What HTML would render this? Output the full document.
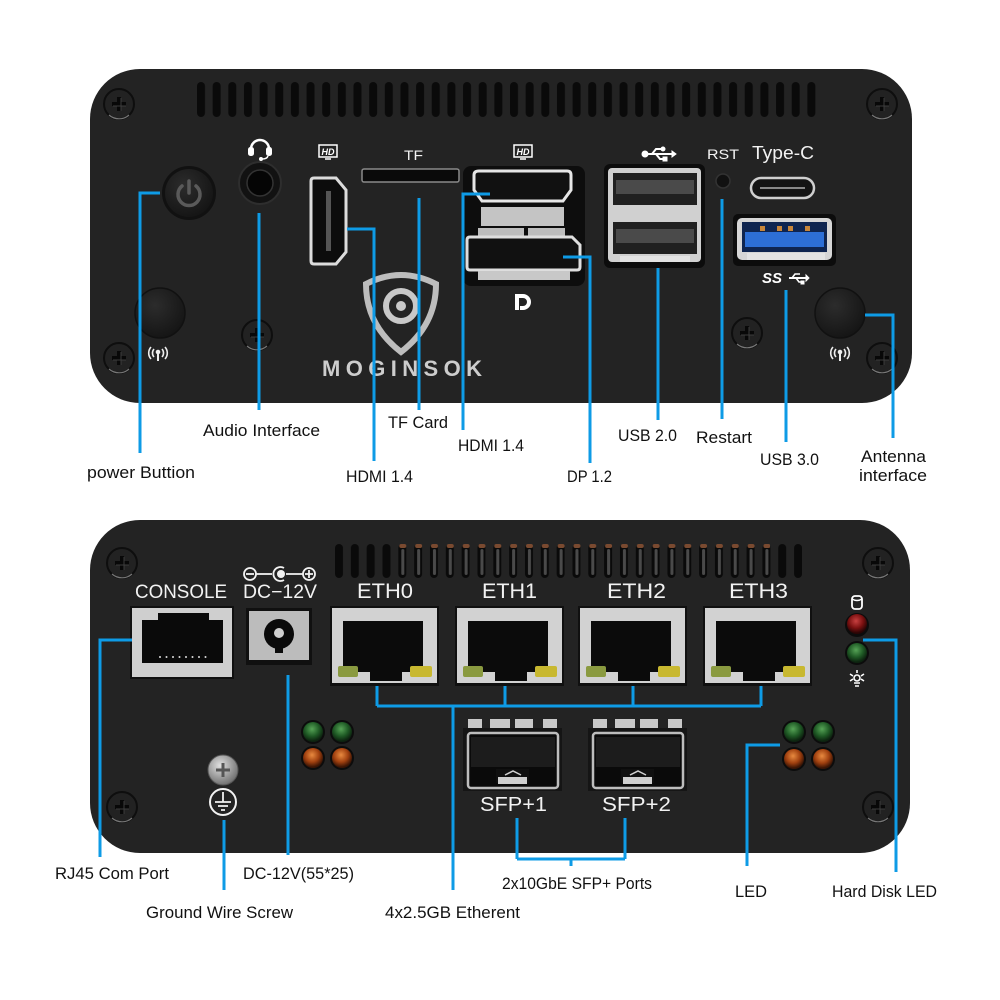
<!DOCTYPE html>
<html><head><meta charset="utf-8"><style>
html,body{margin:0;padding:0;background:#fff;}
svg{display:block}
.lb{font-family:"Liberation Sans",sans-serif;font-size:17px;fill:#111}
.pt{font-family:"Liberation Sans",sans-serif;fill:#f2f2f2}
.bl{stroke:#0e9be6;stroke-width:3;fill:none}
</style></head><body>
<svg width="1000" height="1000" viewBox="0 0 1000 1000" xmlns="http://www.w3.org/2000/svg">
<defs>
 <pattern id="v1" x="197" y="0" width="15.65" height="1000" patternUnits="userSpaceOnUse"><rect x="0" y="82" width="8" height="35" rx="4" fill="#0a0a0a"/></pattern>
 <pattern id="v2" x="335" y="0" width="15.83" height="1000" patternUnits="userSpaceOnUse"><rect x="0" y="544" width="8" height="34" rx="4" fill="#0a0a0a"/></pattern>
 <pattern id="v3" x="335" y="0" width="15.83" height="1000" patternUnits="userSpaceOnUse"><rect x="3" y="549" width="3" height="26" rx="1.5" fill="#4a4a4a"/><rect x="1" y="544" width="7" height="4" rx="2" fill="#7a4a30"/></pattern>
 <radialGradient id="gG" cx="0.45" cy="0.35" r="0.6"><stop offset="0" stop-color="#56a356"/><stop offset="0.6" stop-color="#1f5a25"/><stop offset="1" stop-color="#0d2410"/></radialGradient>
 <radialGradient id="gO" cx="0.45" cy="0.35" r="0.6"><stop offset="0" stop-color="#e88a40"/><stop offset="0.6" stop-color="#a0400f"/><stop offset="1" stop-color="#3a1505"/></radialGradient>
 <radialGradient id="gR" cx="0.45" cy="0.35" r="0.6"><stop offset="0" stop-color="#c84040"/><stop offset="0.6" stop-color="#7a1010"/><stop offset="1" stop-color="#2a0505"/></radialGradient>
 <radialGradient id="gA" cx="0.4" cy="0.35" r="0.7"><stop offset="0" stop-color="#2c2c2c"/><stop offset="1" stop-color="#141414"/></radialGradient>
 <radialGradient id="gS" cx="0.4" cy="0.35" r="0.7"><stop offset="0" stop-color="#e0e0e0"/><stop offset="1" stop-color="#6a6a6a"/></radialGradient>
 <g id="screw"><circle r="15" fill="#222" stroke="#0e0e0e" stroke-width="2"/><path d="M-10,11 A15,15 0 0 0 10,11" stroke="#777" stroke-width="1.2" fill="none"/><path d="M-7,0H7M0,-7V7" stroke="#080808" stroke-width="4"/><path d="M-6,2H7M2,-6V7" stroke="#3c3c3c" stroke-width="1"/></g>
 <g id="ant" stroke="#eee" fill="none" stroke-width="1.6"><path d="M-4,-5 A6,6 0 0 0 -4,3"/><path d="M4,-5 A6,6 0 0 1 4,3"/><path d="M-7,-7 A9,9 0 0 0 -7,5"/><path d="M7,-7 A9,9 0 0 1 7,5"/><circle cx="0" cy="-2" r="1.5" fill="#eee"/><path d="M0,-1 V7" stroke-width="2"/></g>
 <g id="hd"><rect x="-9" y="-7" width="18" height="12" fill="none" stroke="#fff" stroke-width="1.5"/><text x="0" y="3" font-size="9" font-weight="bold" font-style="italic" text-anchor="middle" fill="#fff" font-family="Liberation Sans,sans-serif">HD</text><path d="M-3,7 H3" stroke="#fff" stroke-width="1.5"/></g>
 <g id="eth"><rect x="-2" y="-2" width="109" height="80" fill="#101010"/><rect x="0" y="0" width="105" height="75" fill="#d2d2d2"/><path d="M11,13 H91 V64 H70 V73 H38 V64 H11 Z" fill="#0b0b0b"/><rect x="6" y="58" width="20" height="11" rx="2" fill="#8a9a40"/><rect x="78" y="58" width="22" height="11" rx="2" fill="#c8b830"/></g>
 <g id="sfp"><rect x="5" y="0" width="14" height="9" fill="#c8c8c8"/><rect x="27" y="0" width="20" height="9" fill="#c8c8c8"/><rect x="52" y="0" width="18" height="9" fill="#c8c8c8"/><rect x="80" y="0" width="14" height="9" fill="#c8c8c8"/><rect x="0" y="9" width="99" height="63" fill="#151515"/><rect x="5" y="14" width="90" height="55" rx="3" fill="#0a0a0a" stroke="#bdbdbd" stroke-width="2.5"/><rect x="8" y="18" width="84" height="30" fill="#1c1c1c"/><rect x="33" y="50" width="33" height="14" fill="#101010"/><rect x="35" y="58" width="29" height="7" fill="#cfcfcf"/><path d="M42,56 L50,52 L58,56" stroke="#cfcfcf" stroke-width="1.5" fill="none"/></g>
 <g id="ledG"><circle r="12" fill="#0c0c0c"/><circle r="10" fill="url(#gG)"/></g>
 <g id="ledO"><circle r="12" fill="#0c0c0c"/><circle r="10" fill="url(#gO)"/></g>
</defs>

<!-- TOP PANEL -->
<rect x="90" y="69" width="822" height="334" rx="50" fill="#232323"/>
<rect x="197" y="82" width="619" height="35" fill="url(#v1)"/>
<use href="#screw" x="119" y="104"/>
<use href="#screw" x="119" y="358"/>
<use href="#screw" x="882" y="104"/>
<use href="#screw" x="882" y="358"/>
<use href="#screw" x="257" y="335"/>
<use href="#screw" x="747" y="333"/>

<!-- power -->
<circle cx="189" cy="193" r="27" fill="#111"/>
<circle cx="189" cy="193" r="24" fill="url(#gA)"/>
<g transform="translate(189,194)" stroke="#5a5a5a" stroke-width="3.5" fill="none" stroke-linecap="round"><path d="M-7,-8 A11,11 0 1 0 7,-8"/><path d="M0,-13 V-1"/></g>
<!-- antenna left -->
<circle cx="160" cy="313" r="25" fill="url(#gA)" stroke="#111" stroke-width="1.5"/>
<use href="#ant" x="158" y="354"/>
<!-- audio -->
<g transform="translate(260,147)"><path d="M-9,2 A9,9 0 0 1 9,2" stroke="#fff" stroke-width="2.5" fill="none"/><rect x="-12" y="0" width="6" height="9" rx="2.5" fill="#fff"/><rect x="6" y="0" width="6" height="9" rx="2.5" fill="#fff"/><path d="M8,9 Q7,12 2,12" stroke="#fff" stroke-width="1.5" fill="none"/><circle cx="1" cy="12" r="2" fill="#fff"/></g>
<circle cx="260" cy="183" r="21" fill="#121212" stroke="#2e2e2e" stroke-width="2"/>
<circle cx="260" cy="183" r="13" fill="#050505" stroke="#333" stroke-width="1.5"/>
<!-- HDMI vertical -->
<use href="#hd" x="328" y="152"/>
<path d="M314,178 H336 L346,190 V252 L336,264 H314 Q311,264 311,261 V181 Q311,178 314,178 Z" fill="#0c0c0c" stroke="#dcdcdc" stroke-width="3"/>
<rect x="326" y="191" width="5" height="60" fill="#555"/>
<!-- TF -->
<text class="pt" x="404" y="160" font-size="14" textLength="19" lengthAdjust="spacingAndGlyphs">TF</text>
<rect x="362" y="169" width="97" height="13" rx="2" fill="#0a0a0a" stroke="#8a8a8a" stroke-width="1.5"/>
<!-- logo -->
<path d="M366,284 Q401,266 436,284 Q436,325 401,352 Q366,325 366,284 Z" fill="none" stroke="#bdbdbd" stroke-width="6"/>
<circle cx="401" cy="306" r="15" fill="none" stroke="#c8c8c8" stroke-width="6"/>
<circle cx="401" cy="306" r="5" fill="#c8c8c8"/>
<text x="322" y="376" font-family="Liberation Sans,sans-serif" font-weight="bold" font-size="22" fill="#cdcdcd" textLength="160" lengthAdjust="spacing">MOGINSOK</text>
<!-- HDMI + DP stacked -->
<use href="#hd" x="523" y="152"/>
<rect x="463" y="166" width="122" height="120" rx="8" fill="#0d0d0d"/>
<path d="M479,171 H567 Q571,171 571,175 V190 L563,201 H482 L474,190 V175 Q474,171 479,171 Z" fill="#111" stroke="#e6e6e6" stroke-width="3"/>
<rect x="481" y="207" width="83" height="19" fill="#c4c4c4"/>
<rect x="478" y="228" width="46" height="8" fill="#bdbdbd"/>
<rect x="528" y="228" width="37" height="8" fill="#bdbdbd"/>
<path d="M470,237 H572 L580,245 V267 Q580,270 577,270 H470 Q467,270 467,267 V240 Q467,237 470,237 Z" fill="#111" stroke="#dedede" stroke-width="3"/>
<rect x="478" y="271" width="92" height="9" fill="#c8c8c8"/>
<path d="M515,294 h8 a8,8 0 0 1 0,16 h-3 v-4 h3 a4,4 0 0 0 0,-8 h-4 v12 h-4 z" fill="#fff"/>
<!-- USB 2.0 -->
<g transform="translate(658,154)" stroke="#fff" fill="#fff"><circle cx="-13" cy="0" r="3"/><path d="M-13,0 H14" stroke-width="2"/><path d="M14,-3 L18,0 L14,3 Z"/><path d="M-6,0 L-2,-5 H4" fill="none" stroke-width="2"/><circle cx="5" cy="-5" r="2"/><path d="M-2,0 L2,5 H6" fill="none" stroke-width="2"/><rect x="5" y="3" width="4" height="4"/></g>
<rect x="604" y="164" width="101" height="104" rx="6" fill="#0c0c0c"/>
<rect x="608" y="168" width="93" height="94" rx="4" fill="#d0d0d0"/>
<rect x="613" y="173" width="84" height="32" fill="#202020"/>
<rect x="616" y="180" width="78" height="14" fill="#4a4a4a"/>
<rect x="613" y="222" width="84" height="32" fill="#202020"/>
<rect x="616" y="229" width="78" height="14" fill="#4a4a4a"/>
<rect x="620" y="256" width="70" height="6" fill="#e2e2e2"/>
<!-- RST / Type-C -->
<text class="pt" x="707" y="159" font-size="14" textLength="32" lengthAdjust="spacingAndGlyphs">RST</text>
<circle cx="723" cy="181" r="7" fill="#111" stroke="#333" stroke-width="1.5"/>
<text class="pt" x="752" y="159" font-size="18" textLength="62" lengthAdjust="spacingAndGlyphs">Type-C</text>
<rect x="751" y="178" width="63" height="20" rx="10" fill="#141414" stroke="#cfcfcf" stroke-width="2.5"/>
<path d="M760,188 H805" stroke="#888" stroke-width="2"/>
<!-- USB 3.0 -->
<rect x="733" y="214" width="103" height="52" rx="5" fill="#0c0c0c"/>
<rect x="737" y="218" width="95" height="42" rx="5" fill="#d6d6d6"/>
<rect x="742" y="222" width="85" height="30" fill="#0f2550"/>
<rect x="745" y="232" width="79" height="15" fill="#2d6fd6"/>
<rect x="760" y="226" width="5" height="5" fill="#c8863a"/><rect x="777" y="226" width="5" height="5" fill="#c8863a"/><rect x="788" y="226" width="5" height="5" fill="#c8863a"/><rect x="805" y="226" width="5" height="5" fill="#c8863a"/>
<rect x="747" y="253" width="78" height="7" fill="#e4e4e4"/>
<text x="762" y="283" font-family="Liberation Sans,sans-serif" font-size="15" font-weight="bold" font-style="italic" fill="#fff">SS</text>
<g transform="translate(797,278)" stroke="#fff" fill="#fff"><path d="M-8,0 H9" stroke-width="2"/><path d="M9,-3 L12,0 L9,3 Z"/><path d="M-5,0 L-2,-4 H3" fill="none" stroke-width="1.6"/><path d="M-1,0 L2,4 H5" fill="none" stroke-width="1.6"/><rect x="4" y="3" width="3" height="3"/></g>
<!-- antenna right -->
<circle cx="840" cy="313" r="25" fill="url(#gA)" stroke="#111" stroke-width="1.5"/>
<use href="#ant" x="840" y="354"/>

<!-- top lines -->
<path class="bl" d="M160,193 H140 V453"/>
<path class="bl" d="M259,213 V410"/>
<path class="bl" d="M347,229 H374 V461"/>
<path class="bl" d="M419,198 V410"/>
<path class="bl" d="M490,194 H463 V430"/>
<path class="bl" d="M563,257 H590 V463"/>
<path class="bl" d="M658,268 V420"/>
<path class="bl" d="M722,199 V419"/>
<path class="bl" d="M786,290 V442"/>
<path class="bl" d="M865,315 H893 V438"/>

<!-- top labels -->
<text class="lb" x="87" y="478" textLength="108" lengthAdjust="spacingAndGlyphs">power Buttion</text>
<text class="lb" x="203" y="436" textLength="117" lengthAdjust="spacingAndGlyphs">Audio Interface</text>
<text class="lb" x="388" y="428" textLength="60" lengthAdjust="spacingAndGlyphs">TF Card</text>
<text class="lb" x="346" y="482" textLength="67" lengthAdjust="spacingAndGlyphs">HDMI 1.4</text>
<text class="lb" x="458" y="451" textLength="66" lengthAdjust="spacingAndGlyphs">HDMI 1.4</text>
<text class="lb" x="567" y="482" textLength="45" lengthAdjust="spacingAndGlyphs">DP 1.2</text>
<text class="lb" x="618" y="441" textLength="59" lengthAdjust="spacingAndGlyphs">USB 2.0</text>
<text class="lb" x="696" y="443" textLength="56" lengthAdjust="spacingAndGlyphs">Restart</text>
<text class="lb" x="760" y="465" textLength="59" lengthAdjust="spacingAndGlyphs">USB 3.0</text>
<text class="lb" x="861" y="462" textLength="65" lengthAdjust="spacingAndGlyphs">Antenna</text>
<text class="lb" x="859" y="481" textLength="68" lengthAdjust="spacingAndGlyphs">interface</text>

<!-- BOTTOM PANEL -->
<rect x="90" y="520" width="820" height="333" rx="50" fill="#232323"/>
<rect x="335" y="544" width="467" height="34" fill="url(#v2)"/>
<rect x="398" y="544" width="372" height="34" fill="url(#v3)"/>
<use href="#screw" x="122" y="563"/>
<use href="#screw" x="122" y="807"/>
<use href="#screw" x="878" y="563"/>
<use href="#screw" x="878" y="807"/>

<text class="pt" x="135" y="598" font-size="19" textLength="92" lengthAdjust="spacingAndGlyphs">CONSOLE</text>
<rect x="130" y="606" width="104" height="73" fill="#101010"/>
<rect x="132" y="608" width="100" height="69" fill="#cfcfcf"/>
<path d="M158,613 H209 V620 H223 V663 H142 V620 H158 Z" fill="#0a0a0a"/>
<g fill="#ddd"><circle cx="160" cy="657" r="1"/><circle cx="166.5" cy="657" r="1"/><circle cx="173" cy="657" r="1"/><circle cx="179.5" cy="657" r="1"/><circle cx="186" cy="657" r="1"/><circle cx="192.5" cy="657" r="1"/><circle cx="199" cy="657" r="1"/><circle cx="205.5" cy="657" r="1"/></g>

<!-- DC symbol -->
<g stroke="#f2f2f2" stroke-width="1.8" fill="none"><circle cx="250" cy="574" r="6"/><path d="M246,574 H254"/><path d="M256,574 H272"/><path d="M286,574 H303"/><circle cx="309" cy="574" r="6"/><path d="M305,574 H313 M309,570 V578"/><path d="M284,568 A7,7 0 1 0 284,580"/></g>
<circle cx="281" cy="574" r="4" fill="#f2f2f2"/>
<text class="pt" x="243" y="598" font-size="19" textLength="74" lengthAdjust="spacingAndGlyphs">DC−12V</text>
<rect x="246" y="608" width="66" height="57" fill="#101010"/>
<rect x="249" y="611" width="60" height="49" fill="#bcbcbc"/>
<circle cx="279" cy="634" r="15" fill="#0a0a0a"/>
<rect x="275" y="645" width="8" height="8" fill="#0a0a0a"/>
<circle cx="279" cy="633" r="5" fill="#cfcfcf"/>

<!-- ETH -->
<text class="pt" x="357" y="598" font-size="21" textLength="56" lengthAdjust="spacingAndGlyphs">ETH0</text>
<text class="pt" x="482" y="598" font-size="21" textLength="55" lengthAdjust="spacingAndGlyphs">ETH1</text>
<text class="pt" x="607" y="598" font-size="21" textLength="59" lengthAdjust="spacingAndGlyphs">ETH2</text>
<text class="pt" x="729" y="598" font-size="21" textLength="59" lengthAdjust="spacingAndGlyphs">ETH3</text>
<use href="#eth" x="332" y="608"/>
<use href="#eth" x="457" y="608"/>
<use href="#eth" x="580" y="608"/>
<use href="#eth" x="705" y="608"/>

<!-- SFP -->
<use href="#sfp" x="463" y="719"/>
<use href="#sfp" x="588" y="719"/>
<text class="pt" x="480" y="811" font-size="20" textLength="67" lengthAdjust="spacingAndGlyphs">SFP+1</text>
<text class="pt" x="602" y="811" font-size="20" textLength="69" lengthAdjust="spacingAndGlyphs">SFP+2</text>

<!-- LEDs -->
<use href="#ledG" x="313" y="732"/><use href="#ledG" x="342" y="732"/>
<use href="#ledO" x="313" y="758"/><use href="#ledO" x="342" y="758"/>
<use href="#ledG" x="794" y="732"/><use href="#ledG" x="823" y="732"/>
<use href="#ledO" x="794" y="759"/><use href="#ledO" x="823" y="759"/>

<!-- HDD -->
<rect x="852" y="596" width="10" height="13" rx="3" fill="none" stroke="#fff" stroke-width="1.8"/>
<path d="M852,599 Q857,602 862,599" stroke="#fff" stroke-width="1.4" fill="none"/>
<circle cx="857" cy="625" r="12" fill="#0c0c0c"/><circle cx="857" cy="624" r="10" fill="url(#gR)"/>
<use href="#ledG" x="857" y="653"/>
<g transform="translate(857,678)" stroke="#fff" stroke-width="1.6" fill="none"><circle r="3"/><path d="M0,-8V-5 M-7,-4 L-4,-2 M7,-4 L4,-2 M-7,3 L-4,1 M7,3 L4,1 M-3,5 H3 M-2,8 H2"/></g>

<!-- Ground -->
<circle cx="223" cy="770" r="15" fill="url(#gS)" stroke="#555" stroke-width="1"/>
<path d="M216,770 H230 M223,763 V777" stroke="#555" stroke-width="3"/>
<circle cx="223" cy="802" r="13" fill="none" stroke="#f2f2f2" stroke-width="2"/>
<path d="M223,792 V802 M215,802 H231 M218,806 H228 M221,810 H225" stroke="#f2f2f2" stroke-width="1.8" fill="none"/>

<!-- bottom lines -->
<path class="bl" d="M132,640 H100 V857"/>
<path class="bl" d="M224,820 V890"/>
<path class="bl" d="M288,675 V855"/>
<path class="bl" d="M377,686 V706 M505,686 V706 M633,686 V706 M761,686 V706 M377,706 H761 M453,706 V890"/>
<path class="bl" d="M517,818 V859 M625,818 V859 M517,859 H625 M571,859 V866"/>
<path class="bl" d="M780,745 H747 V866"/>
<path class="bl" d="M863,640 H896 V872"/>

<!-- bottom labels -->
<text class="lb" x="55" y="879" textLength="114" lengthAdjust="spacingAndGlyphs">RJ45 Com Port</text>
<text class="lb" x="243" y="879" textLength="111" lengthAdjust="spacingAndGlyphs">DC-12V(55*25)</text>
<text class="lb" x="146" y="918" textLength="147" lengthAdjust="spacingAndGlyphs">Ground Wire Screw</text>
<text class="lb" x="385" y="918" textLength="135" lengthAdjust="spacingAndGlyphs">4x2.5GB Etherent</text>
<text class="lb" x="502" y="889" textLength="150" lengthAdjust="spacingAndGlyphs">2x10GbE SFP+ Ports</text>
<text class="lb" x="735" y="897" font-size="19" textLength="32" lengthAdjust="spacingAndGlyphs">LED</text>
<text class="lb" x="832" y="897" textLength="105" lengthAdjust="spacingAndGlyphs">Hard Disk LED</text>
</svg>
</body></html>
